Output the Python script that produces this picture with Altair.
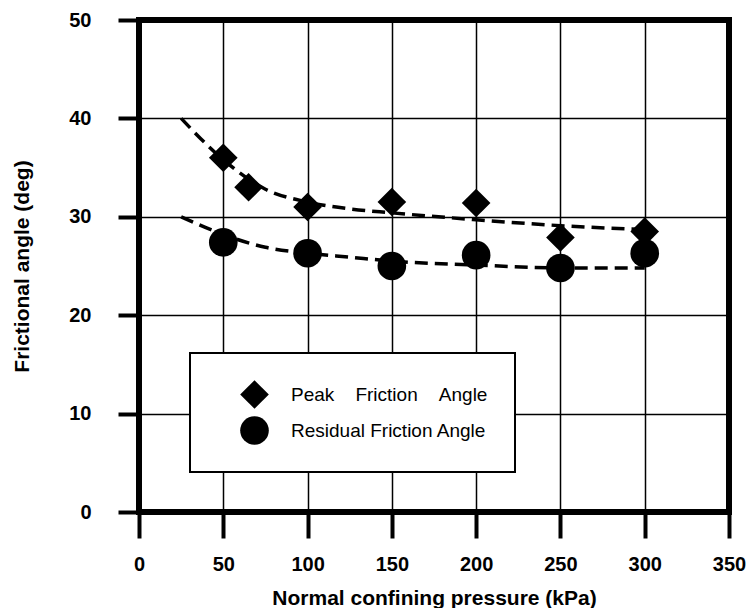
import altair as alt
import pandas as pd

# ---- data ----
series = ["Peak Friction Angle", "Residual Friction Angle"]

peak_pressure = [50, 65, 100, 150, 200, 250, 300]
peak_angle = [36.0, 33.0, 31.0, 31.5, 31.4, 27.9, 28.5]

res_pressure = [50, 100, 150, 200, 250, 300]
res_angle = [27.4, 26.3, 25.0, 26.1, 24.8, 26.3]

curve_pressure = [25, 50, 75, 100, 125, 150, 200, 250, 300]
curve_peak = [40.0, 35.8, 32.8, 31.5, 30.8, 30.4, 29.7, 29.1, 28.7]
curve_res = [30.0, 28.2, 26.9, 26.3, 25.9, 25.5, 25.1, 24.8, 24.8]

x_ticks = [0, 50, 100, 150, 200, 250, 300, 350]
y_ticks = [0, 10, 20, 30, 40, 50]

points = pd.DataFrame(
    {
        "x": peak_pressure + res_pressure,
        "y": peak_angle + res_angle,
        "series": [series[0]] * len(peak_pressure) + [series[1]] * len(res_pressure),
    }
)
curves = pd.DataFrame(
    {
        "x": curve_pressure + curve_pressure,
        "y": curve_peak + curve_res,
        "curve": ["peak"] * len(curve_pressure) + ["residual"] * len(curve_pressure),
    }
)

FONT = "Liberation Sans"

x_enc = alt.X(
    "x:Q",
    scale=alt.Scale(domain=[0, 350], nice=False, zero=False),
    axis=alt.Axis(
        values=x_ticks,
        title="Normal confining pressure (kPa)",
        labelFlush=False,
        tickSize=26,
        tickWidth=4,
        labelPadding=16,
        titleY=86,
        titleBaseline="middle",
    ),
)
y_enc = alt.Y(
    "y:Q",
    scale=alt.Scale(domain=[0, 50], nice=False, zero=False),
    axis=alt.Axis(
        values=y_ticks,
        title="Frictional angle (deg)",
        labelFlush=False,
        tickSize=21,
        tickWidth=4,
        labelPadding=27,
        titleAngle=270,
        titleAlign="center",
        titleBaseline="middle",
        titleX=-117,
        titleY=246,
    ),
)

lines = alt.Chart(curves).mark_line(
    color="black", strokeWidth=3.5, strokeDash=[13, 7], interpolate="monotone"
).encode(x=x_enc, y=y_enc, detail="curve:N")

peak_label = "Peak\u00a0\u00a0\u00a0\u00a0Friction\u00a0\u00a0\u00a0\u00a0Angle"

pts = alt.Chart(points).mark_point(
    filled=True, color="black", opacity=1, size=820
).encode(
    x=x_enc,
    y=y_enc,
    shape=alt.Shape(
        "series:N",
        scale=alt.Scale(domain=series, range=["diamond", "circle"]),
        legend=alt.Legend(
            title=None,
            labelExpr=f"datum.label == '{series[0]}' ? '{peak_label}' : datum.label",
        ),
    ),
)

chart = (
    alt.layer(lines, pts)
    .properties(
        width=590,
        height=492,
        autosize="none",
        padding={"left": 131, "top": 12, "right": 18, "bottom": 96},
        background="white",
    )
    .configure_view(stroke="black", strokeWidth=6)
    .configure_axis(
        grid=True,
        gridColor="black",
        gridWidth=1.5,
        gridOpacity=1,
        domain=False,
        tickColor="black",
        labelColor="black",
        labelFont=FONT,
        labelFontSize=20,
        labelFontWeight="bold",
        titleColor="black",
        titleFont=FONT,
        titleFontSize=21,
        titleFontWeight="bold",
    )
    .configure_legend(
        orient="none",
        legendX=51,
        legendY=333,
        padding=27,
        strokeColor="black",
        strokeWidth=2,
        fillColor="white",
        symbolSize=820,
        symbolFillColor="black",
        symbolStrokeWidth=0,
        symbolOffset=23,
        labelOffset=22,
        labelFont=FONT,
        labelFontSize=19,
        labelColor="black",
        labelLimit=500,
        rowPadding=7,
    )
)

chart.save("out.html", embed_options={"renderer": "svg", "actions": False})
